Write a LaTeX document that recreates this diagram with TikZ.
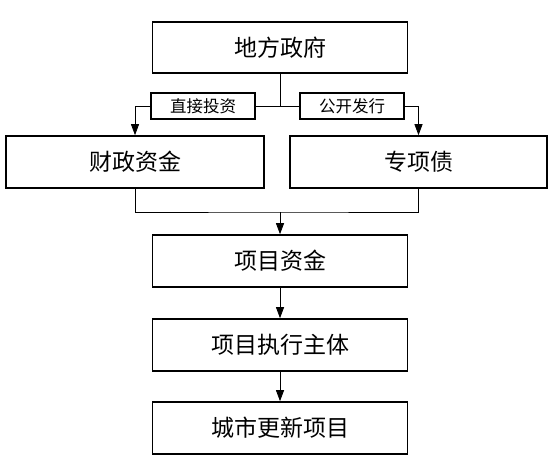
\documentclass[tikz,border=0pt]{standalone}
\usepackage{fontspec}
\setmainfont{Noto Sans CJK SC}
\usetikzlibrary{arrows.meta}
\begin{document}
\begin{tikzpicture}[x=1pt,y=-1pt,
  box/.style={draw,line width=1.6pt,inner sep=0pt,font=\fontsize{23}{26}\selectfont},
  lab/.style={draw,line width=1.4pt,fill=white,inner sep=0pt,minimum width=104pt,minimum height=26pt,font=\fontsize{16.5}{18}\selectfont},
  conn/.style={line width=0.8pt},
  arr/.style={conn,-{Triangle[width=8pt,length=11pt]}}]
\useasboundingbox (0,0) rectangle (556,465);
\node[box,minimum width=255pt,minimum height=51pt] (gov) at (280,47.5) {地方政府};
\node[box,minimum width=258pt,minimum height=52pt] (fin) at (135,162) {财政资金};
\node[box,minimum width=257pt,minimum height=52pt] (bond) at (418.5,162) {专项债};
\node[box,minimum width=255pt,minimum height=52pt] (proj) at (280,261) {项目资金};
\node[box,minimum width=255pt,minimum height=52pt] (exec) at (280,345) {项目执行主体};
\node[box,minimum width=255pt,minimum height=52pt] (city) at (280,428) {城市更新项目};
\coordinate (j) at (280,106);
\coordinate (m) at (280,212);
\draw[conn] (gov.south) -- (j);
\draw[arr] (j) -| (fin.north);
\draw[arr] (j) -| (bond.north);
\node[lab] (l1) at (203,106) {直接投资};
\node[lab] (l2) at (352,106) {公开发行};
\draw[conn] (fin.south) |- (m) -| (bond.south);
\draw[arr] (m) -- (proj.north);
\draw[arr] (proj.south) -- (exec.north);
\draw[arr] (exec.south) -- (city.north);
\end{tikzpicture}
\end{document}
